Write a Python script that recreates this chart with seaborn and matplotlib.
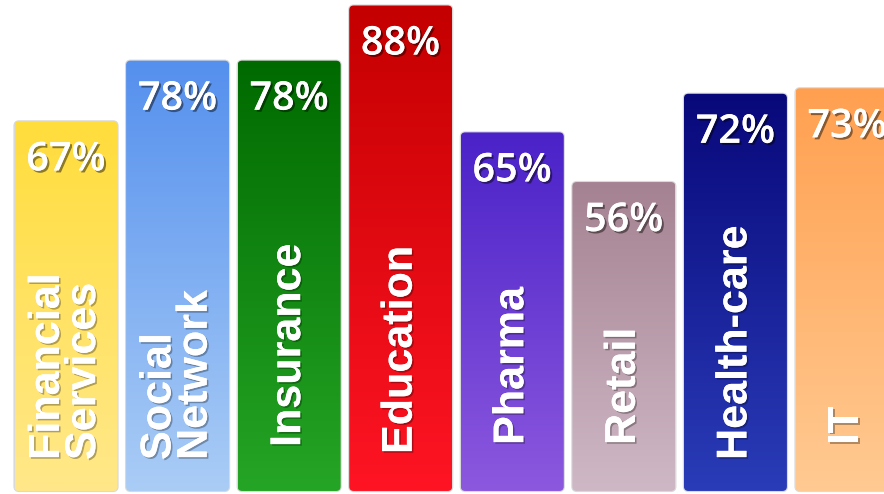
import numpy as np
import matplotlib
matplotlib.use("Agg")
import matplotlib.pyplot as plt
import matplotlib.patheffects as pe
from matplotlib.patches import FancyBboxPatch
from matplotlib.colors import to_rgb
import seaborn as sns

# ---- data ----
categories = ["Financial\nServices", "Social\nNetwork", "Insurance", "Education",
              "Pharma", "Retail", "Health-care", "IT"]
values = [67, 78, 78, 88, 65, 56, 72, 73]
value_labels = ["67%", "78%", "78%", "88%", "65%", "56%", "72%", "73%"]

# ---- style ----
top_colors = ["#FFDD3C", "#5590EE", "#006A00", "#C40000", "#4A22C8", "#A58291", "#08087A", "#FFA050"]
bottom_colors = ["#FFE88A", "#AACDF6", "#25A525", "#FF1424", "#8C58DE", "#CFB8C6", "#2A3CB8", "#FFCA92"]
label_offsets = [31, 31, 44, 37, 46, 46, 31, 46]   # pixels above bar bottom

sns.set_theme(style="white")
plt.rcParams["font.family"] = ["Liberation Sans", "DejaVu Sans"]

fig = plt.figure(figsize=(8.84, 4.94), dpi=100)
fig.patch.set_facecolor("white")
ax = fig.add_axes([0, 0, 1, 1])

bar_w = 0.923
sns.barplot(x=list(range(len(categories))), y=values, hue=list(range(len(categories))),
            palette=top_colors, legend=False, width=bar_w, ax=ax, saturation=1)

ax.set_xlim(-0.5916, 7.3316)
ax.set_ylim(-0.55, 89.0)
ax.axis("off")

# pixel scales for rounding
px_per_x = 884 / (7.3316 + 0.5916)
px_per_y = 494 / (89.0 + 0.55)
rad_px = 4.5

for i, p in enumerate(ax.patches):
    x0 = p.get_x(); w = p.get_width(); h = p.get_height(); y0 = p.get_y()
    p.set_visible(False)
    box = FancyBboxPatch((x0, y0), w, h,
                         boxstyle=f"round,pad=0,rounding_size={rad_px / px_per_x}",
                         mutation_aspect=px_per_x / px_per_y,
                         facecolor="none", edgecolor="#d9d9d9", linewidth=1.6,
                         zorder=2)
    ax.add_patch(box)
    c1 = np.array(to_rgb(top_colors[i])); c2 = np.array(to_rgb(bottom_colors[i]))
    t = np.linspace(0, 1, 256)[:, None]
    grad = (c1[None, :] * (1 - t) + c2[None, :] * t)[:, None, :]
    im = ax.imshow(grad, extent=(x0, x0 + w, y0, y0 + h), origin="upper",
                   aspect="auto", zorder=3, interpolation="bilinear")
    im.set_clip_path(box)

    # percentage label
    ax.annotate(value_labels[i], xy=(x0 + w / 2, y0 + h), xytext=(0, -39),
                textcoords="offset pixels", ha="center", va="center",
                color="white", fontsize=28.5, fontweight="semibold",
                family=["Open Sans", "DejaVu Sans"], zorder=5,
                path_effects=[pe.withSimplePatchShadow(offset=(1.5, -1.5),
                                                        shadow_rgbFace="black", alpha=0.45),
                              pe.Normal()])
    # category label
    ax.annotate(categories[i], xy=(x0 + w / 2, 0), xytext=(0, label_offsets[i]),
                textcoords="offset pixels", rotation=90, rotation_mode="anchor",
                ha="left", va="center", multialignment="left", linespacing=0.88,
                color="white", fontsize=31, fontweight="bold", zorder=5,
                path_effects=[pe.withSimplePatchShadow(offset=(1.2, -1.2),
                                                        shadow_rgbFace="black", alpha=0.3),
                              pe.Normal()])

fig.savefig("out.png", dpi=100, facecolor="white")
